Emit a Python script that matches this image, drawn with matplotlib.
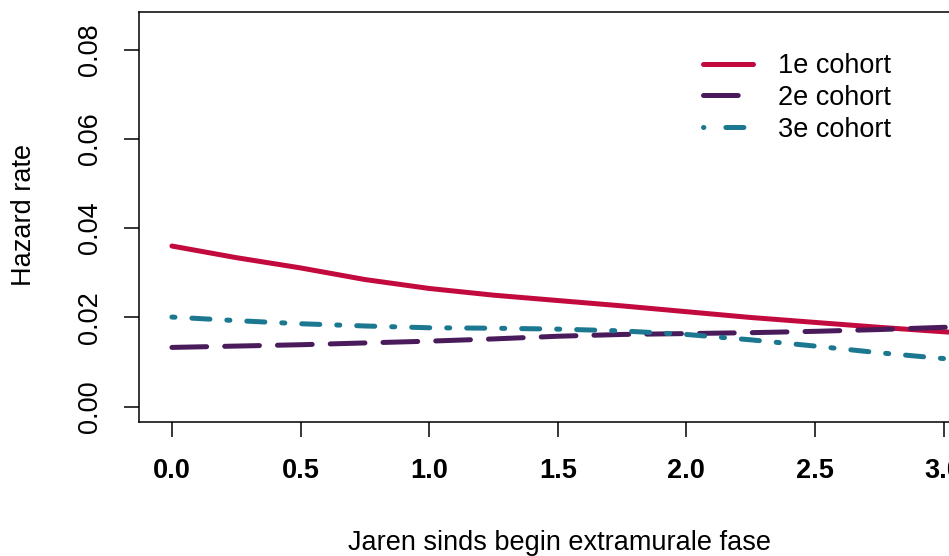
import matplotlib
matplotlib.use("Agg")
import matplotlib.pyplot as plt
from matplotlib.lines import Line2D

plt.rcParams['font.family'] = ['Liberation Sans', 'DejaVu Sans']
plt.rcParams['lines.scale_dashes'] = False

# data
years = [0.0, 0.25, 0.5, 0.75, 1.0, 1.25, 1.5, 1.75, 2.0, 2.25, 2.5, 2.75, 3.0, 3.2]
cohort1 = [0.0360, 0.0334, 0.0311, 0.0285, 0.0265, 0.0250, 0.0238, 0.0226, 0.0213, 0.0200, 0.0189, 0.0178, 0.0168, 0.0161]
cohort2 = [0.0133, 0.0136, 0.0139, 0.0143, 0.0147, 0.0152, 0.0158, 0.0162, 0.0164, 0.0166, 0.0169, 0.0173, 0.0178, 0.0181]
cohort3 = [0.0201, 0.0193, 0.0186, 0.0181, 0.0177, 0.0176, 0.0174, 0.0170, 0.0162, 0.0150, 0.0136, 0.0121, 0.0108, 0.0098]
labels = ['1e cohort', '2e cohort', '3e cohort']
xticks = [0.0, 0.5, 1.0, 1.5, 2.0, 2.5, 3.0]
yticks = [0.00, 0.02, 0.04, 0.06, 0.08]

c_red = '#C20A3E'
c_pur = '#4A1B5B'
c_teal = '#1C7890'
fs = 19.5

fig = plt.figure(figsize=(9.49, 5.56), dpi=100)
ax = fig.add_axes([139/949, 1-422/556, (1028-139)/949, (422-12)/556])

lw = 3.6
ax.plot(years, cohort1, color=c_red, lw=lw, solid_capstyle='round')
ax.plot(years, cohort2, color=c_pur, lw=lw, dash_capstyle='round', dashes=(25, 13))
ax.plot(years, cohort3, color=c_teal, lw=lw, dash_capstyle='round',
        dashes=(2.2, 12.2, 13, 12.2))

ax.set_xlim(-0.128, 3.328)
ax.set_ylim(-0.0034, 0.0884)
ax.set_xticks(xticks)
ax.set_xticklabels([f'{v:.1f}' for v in xticks], fontsize=fs, fontweight='bold')
ax.set_yticks(yticks)
ax.set_yticklabels([f'{v:.2f}' for v in yticks], fontsize=fs, rotation=90, va='center')
ax.tick_params(axis='x', length=11, width=1.1, pad=15)
ax.tick_params(axis='y', length=11, width=1.1, pad=15)
for s in ax.spines.values():
    s.set_linewidth(1.1)

fig.text(559/949, 1-550/556, 'Jaren sinds begin extramurale fase', fontsize=fs,
         ha='center', va='baseline')
fig.text(24/949, 1-215/556, 'Hazard rate', fontsize=fs, rotation=90,
         ha='center', va='center')

handles = [
    Line2D([], [], color=c_red, lw=lw, solid_capstyle='round'),
    Line2D([], [], color=c_pur, lw=lw, dash_capstyle='round', dashes=(25, 100)),
    Line2D([], [], color=c_teal, lw=lw, dash_capstyle='round', dashes=(0.3, 15.8, 13, 100)),
]
leg = fig.legend(handles, labels, loc='upper left', bbox_to_anchor=(702.5/949, 1-53/556),
                 bbox_transform=fig.transFigure, frameon=False, fontsize=fs,
                 handlelength=1.85, handletextpad=0.95, labelspacing=0.22,
                 borderpad=0, borderaxespad=0)

fig.savefig('out.png', dpi=100)
